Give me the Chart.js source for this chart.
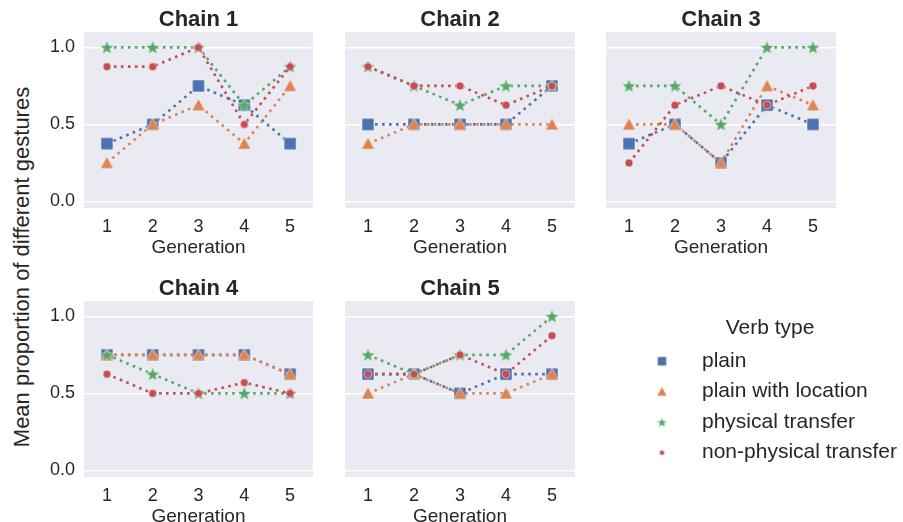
<!DOCTYPE html>
<html>
<head>
<meta charset="utf-8">
<script src="https://cdn.jsdelivr.net/npm/chart.js@4.4.1/dist/chart.umd.min.js"></script>
<style>
  html, body { margin: 0; padding: 0; background: #fff; }
  body { width: 903px; height: 522px; position: relative; overflow: hidden; font-family: 'Liberation Sans', Arial, sans-serif; }
  canvas { position: absolute; }
  #yTitle { position: absolute; left: 22px; top: 267px; transform: translate(-50%, -50%) rotate(-90deg); white-space: nowrap; font-size: 22px; color: #262626; }
</style>
</head>
<body>
<div id="yTitle">Mean proportion of different gestures</div>
<canvas id="chain1" width="299" height="260" style="left:24px;top:0px"></canvas>
<canvas id="chain2" width="300" height="260" style="left:285px;top:0px"></canvas>
<canvas id="chain3" width="300" height="260" style="left:546px;top:0px"></canvas>
<canvas id="chain4" width="299" height="260" style="left:24px;top:269px"></canvas>
<canvas id="chain5" width="300" height="260" style="left:285px;top:269px"></canvas>
<canvas id="leyenda" width="294" height="320" style="left:623px;top:300px"></canvas>
<script>
// Datos
var generaciones = ['1', '2', '3', '4', '5'];
var cadenas = ['Chain 1', 'Chain 2', 'Chain 3', 'Chain 4', 'Chain 5'];
var tiposVerbo = ['plain', 'plain with location', 'physical transfer', 'non-physical transfer'];
var yTicks = [0, 0.5, 1.0];

// una fila por cadena
var plain = [
    [0.375, 0.5, 0.75, 0.625, 0.375],
    [0.5, 0.5, 0.5, 0.5, 0.75],
    [0.375, 0.5, 0.25, 0.625, 0.5],
    [0.75, 0.75, 0.75, 0.75, 0.625],
    [0.625, 0.625, 0.5, 0.625, 0.625]
];
var plainLocation = [
    [0.25, 0.5, 0.625, 0.375, 0.75],
    [0.375, 0.5, 0.5, 0.5, 0.5],
    [0.5, 0.5, 0.25, 0.75, 0.625],
    [0.75, 0.75, 0.75, 0.75, 0.625],
    [0.5, 0.625, 0.5, 0.5, 0.625]
];
var physical = [
    [1.0, 1.0, 1.0, 0.625, 0.875],
    [0.875, 0.75, 0.625, 0.75, 0.75],
    [0.75, 0.75, 0.5, 1.0, 1.0],
    [0.75, 0.625, 0.5, 0.5, 0.5],
    [0.75, 0.625, 0.75, 0.75, 1.0]
];
var nonPhysical = [
    [0.875, 0.875, 1.0, 0.5, 0.875],
    [0.875, 0.75, 0.75, 0.625, 0.75],
    [0.25, 0.625, 0.75, 0.625, 0.75],
    [0.625, 0.5, 0.5, 0.57, 0.5],
    [0.625, 0.625, 0.75, 0.625, 0.875]
];

var series = [plain, plainLocation, physical, nonPhysical];
var colores = ['#4C72B0', '#DD8452', '#55A868', '#C44E52'];
var formas = ['square', 'triangle', 'star', 'circle'];
var tamPlot = [12, 13, 15, 8];
var tamLeyenda = [9, 10, 11, 5];
var gris = '#262626';

Chart.defaults.font.family = "'Liberation Sans', Arial, sans-serif";
Chart.defaults.color = gris;

//Dibujar marcador en un canvas pequeño
function crearMarcador(forma, tam, color) {
    var c = document.createElement('canvas');
    var pad = 2;
    c.width = c.height = Math.ceil(tam + pad * 2);
    var ctx = c.getContext('2d');
    var m = c.width / 2, r = tam / 2;
    ctx.fillStyle = color;
    ctx.strokeStyle = 'rgba(255,255,255,0.7)';
    ctx.lineWidth = 0.7;
    ctx.beginPath();
    if (forma === 'square') {
        ctx.rect(m - r, m - r, tam, tam);
    } else if (forma === 'triangle') {
        ctx.moveTo(m, m - r);
        ctx.lineTo(m + r, m + r * 0.85);
        ctx.lineTo(m - r, m + r * 0.85);
        ctx.closePath();
    } else if (forma === 'star') {
        for (var i = 0; i < 10; i++) {
            var ang = -Math.PI / 2 + i * Math.PI / 5;
            var rr = (i % 2 === 0) ? r : r * 0.42;
            var px = m + rr * Math.cos(ang), py = m + 0.5 + rr * Math.sin(ang);
            if (i === 0) ctx.moveTo(px, py); else ctx.lineTo(px, py);
        }
        ctx.closePath();
    } else {
        ctx.arc(m, m, r, 0, Math.PI * 2);
    }
    ctx.fill();
    ctx.stroke();
    return c;
}

var fondoPlugin = {
    id: 'fondo',
    beforeDraw: function(chart) {
        var a = chart.chartArea;
        if (!a) return;
        chart.ctx.save();
        chart.ctx.fillStyle = '#EAEAF2';
        chart.ctx.fillRect(a.left, a.top, a.right - a.left, a.bottom - a.top);
        chart.ctx.restore();
    }
};

//Grafico por cadena
function crearCadena(idx) {
    var conEjeY = (idx === 0 || idx === 3);
    var datasets = series.map(function(serie, k) {
        return {
            label: tiposVerbo[k],
            data: serie[idx],
            borderColor: colores[k],
            backgroundColor: colores[k],
            borderWidth: 2.6,
            borderDash: [2.6, 4.4],
            fill: false,
            tension: 0,
            pointStyle: crearMarcador(formas[k], tamPlot[k], colores[k]),
            pointRadius: 5,
            order: 4 - k
        };
    });
    return new Chart(document.getElementById('chain' + (idx + 1)), {
        type: 'line',
        plugins: [fondoPlugin],
        data: {
            labels: generaciones,
            datasets: datasets
        },
        options: {
            responsive: false,
            animation: false,
            layout: { padding: { left: 0, right: 10, top: 0, bottom: 0 } },
            scales: {
                x: {
                    type: 'category',
                    offset: true,
                    grid: { display: false },
                    border: { display: false },
                    ticks: { font: { size: 18 }, color: gris, padding: 0, maxRotation: 0 },
                    title: { display: true, text: 'Generation', font: { size: 19 }, color: gris, padding: { top: 0, bottom: 1 } },
                    afterFit: function(scale) { scale.height = 52; }
                },
                y: {
                    min: -0.043,
                    max: 1.1,
                    grid: { color: '#ffffff', lineWidth: 1.5, drawTicks: false },
                    border: { display: false },
                    afterBuildTicks: function(scale) {
                        scale.ticks = yTicks.map(function(v) { return { value: v }; });
                    },
                    ticks: {
                        display: conEjeY,
                        font: { size: 18 },
                        color: gris,
                        padding: 9,
                        callback: function(v) { return Number(v).toFixed(1); }
                    },
                    afterFit: function(scale) { scale.width = 60; }
                }
            },
            plugins: {
                legend: { display: false },
                tooltip: { enabled: false },
                title: {
                    display: true,
                    fullSize: false,
                    text: cadenas[idx],
                    font: { size: 22, weight: 'bold', lineHeight: 25 / 22 },
                    color: gris,
                    padding: { top: 7, bottom: 0 }
                }
            }
        }
    });
}

for (var i = 0; i < cadenas.length; i++) {
    crearCadena(i);
}

//Leyenda
var leyenda = new Chart(document.getElementById('leyenda'), {
    type: 'line',
    data: {
        labels: [],
        datasets: tiposVerbo.map(function(t, k) {
            return {
                label: t,
                data: [],
                borderColor: colores[k],
                backgroundColor: colores[k],
                pointStyle: crearMarcador(formas[k], tamLeyenda[k], colores[k])
            };
        })
    },
    options: {
        responsive: false,
        animation: false,
        scales: { x: { display: false }, y: { display: false } },
        plugins: {
            tooltip: { enabled: false },
            title: {
                display: true,
                text: 'Verb type',
                font: { size: 21, weight: 'normal' },
                color: gris,
                padding: { top: 16, bottom: 0 }
            },
            legend: {
                display: true,
                position: 'top',
                align: 'start',
                labels: {
                    usePointStyle: true,
                    pointStyleWidth: 59,
                    font: { size: 21 },
                    color: gris,
                    padding: 9.5
                }
            }
        }
    }
});
</script>
</body>
</html>
